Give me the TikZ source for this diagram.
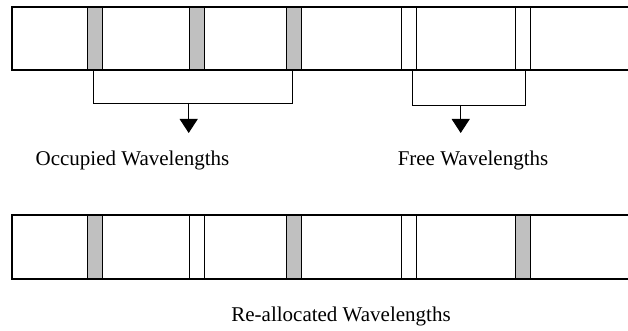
\documentclass[tikz,border=0pt]{standalone}
\usepackage{fontspec}
\setmainfont{Liberation Serif}
\usetikzlibrary{arrows.meta}
\definecolor{slotgray}{RGB}{192,192,192}
\tikzset{
  stripline/.style={line width=2pt, line cap=rect},
  occslot/.style={draw, line width=1pt, fill=slotgray, inner sep=0pt, minimum width=15pt, minimum height=63pt, anchor=north west},
  freeslot/.style={draw, line width=1pt, fill=white, inner sep=0pt, minimum width=15pt, minimum height=63pt, anchor=north west},
  bracket/.style={line width=1pt},
  pointer/.style={line width=1pt, -{Triangle[width=18pt,length=14pt]}},
  label/.style={font=\fontsize{21}{25}\selectfont, inner sep=0pt}
}
\begin{document}
\begin{tikzpicture}[x=1pt,y=-1pt]
\useasboundingbox (0,0) rectangle (628,331);
% top strip
\draw[stripline] (628,7) -- (12,7) -- (12,70) -- (628,70);
\node[occslot] (a1) at (87,7) {};
\node[occslot] (a2) at (188.5,7) {};
\node[occslot] (a3) at (285.5,7) {};
\node[freeslot] (b1) at (401,7) {};
\node[freeslot] (b2) at (515,7) {};
\draw[stripline] (628,7) -- (12,7);
\draw[stripline] (12,70) -- (628,70);
% occupied bracket
\coordinate (oc) at (188.7,103);
\coordinate (oe) at (188.7,133);
\draw[bracket] ([xshift=-1.5pt]a1.south) -- ++(0,33) -| ([xshift=-1pt]a3.south);
\draw[pointer] (oc) -- (oe);
% free bracket
\coordinate (fc) at (460.7,105);
\coordinate (fe) at (460.7,133);
\draw[bracket] ([xshift=3pt]b1.south) -- ++(0,35) -| ([xshift=2pt]b2.south);
\draw[pointer] (fc) -- (fe);
\node[label] (occ) at (132.5,160) {Occupied Wavelengths};
\node[label] (free) at (473,160) {Free Wavelengths};
% bottom strip
\draw[stripline] (628,214.5) -- (12,214.5) -- (12,278.5) -- (628,278.5);
\node[occslot] (c1) at (87,214.5) {};
\node[freeslot] (c2) at (188.5,214.5) {};
\node[occslot] (c3) at (285.5,214.5) {};
\node[freeslot] (c4) at (401,214.5) {};
\node[occslot] (c5) at (515,214.5) {};
\draw[stripline] (628,214.5) -- (12,214.5);
\draw[stripline] (12,278.5) -- (628,278.5);
\node[label] (re) at (341,316) {Re-allocated Wavelengths};
\end{tikzpicture}
\end{document}
